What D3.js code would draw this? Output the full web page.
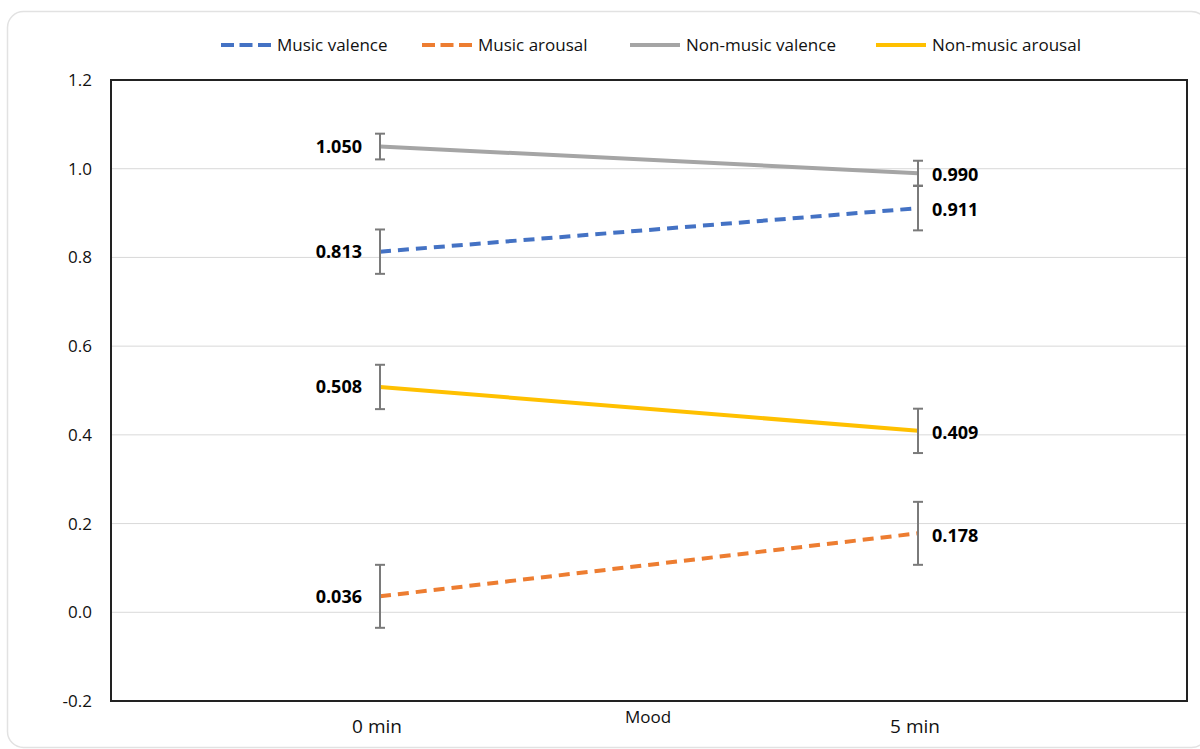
<!DOCTYPE html>
<html>
<head>
<meta charset="utf-8">
<script src="https://cdn.jsdelivr.net/npm/d3@7"></script>
<style>
  html, body { margin: 0; padding: 0; background: #fff; }
  svg { display: block; font-family: "Open Sans", Lato, sans-serif; }
</style>
</head>
<body>
<svg id="chart" width="1200" height="749"></svg>
<script>
// Time points on the x axis
const timePoints = ["0 min", "5 min"];

// Series names in legend order
const seriesNames = ["Music valence", "Music arousal", "Non-music valence", "Non-music arousal"];

// Mean values at 0 min and 5 min
const musicValence = [0.813, 0.911];
const musicArousal = [0.036, 0.178];
const nonMusicValence = [1.050, 0.990];
const nonMusicArousal = [0.508, 0.409];

// Error (± half-range) for each point
const musicValenceErr = [0.050, 0.050];
const musicArousalErr = [0.071, 0.071];
const nonMusicValenceErr = [0.029, 0.028];
const nonMusicArousalErr = [0.050, 0.050];

// Y axis tick labels
const yTicks = [-0.2, 0.0, 0.2, 0.4, 0.6, 0.8, 1.0, 1.2];

const seriesColors = ["#4472C4", "#ED7D31", "#A5A5A5", "#FFC000"];
const seriesDashed = [true, true, false, false];

const series = seriesNames.map((name, i) => ({
  name,
  values: [musicValence, musicArousal, nonMusicValence, nonMusicArousal][i],
  errs: [musicValenceErr, musicArousalErr, nonMusicValenceErr, nonMusicArousalErr][i],
  color: seriesColors[i],
  dashed: seriesDashed[i]
}));

// Plain hyphen-minus for negative tick labels
const tickFmt = d3.formatLocale({ decimal: ".", thousands: ",", grouping: [3], currency: ["", ""], minus: "-" }).format(".1f");

const svg = d3.select("#chart");

// Rounded card outline
svg.append("rect")
  .attr("x", 7.5).attr("y", 11.5)
  .attr("width", 1200).attr("height", 736)
  .attr("rx", 16).attr("ry", 16)
  .attr("fill", "#fff")
  .attr("stroke", "#e2e2e2").attr("stroke-width", 1.5);

const plot = { left: 111, top: 80, right: 1187, bottom: 701 };

const x = d3.scaleBand()
  .domain(timePoints)
  .range([plot.left, plot.right]);

const y = d3.scaleLinear()
  .domain([-0.2, 1.2])
  .range([plot.bottom, plot.top]);

const cx = t => x(t) + x.bandwidth() / 2;

// Horizontal gridlines
svg.append("g")
  .selectAll("line")
  .data(yTicks)
  .join("line")
  .attr("x1", plot.left).attr("x2", plot.right)
  .attr("y1", d => y(d)).attr("y2", d => y(d))
  .attr("stroke", "#d9d9d9").attr("stroke-width", 1);

// Y axis labels
const yAxis = svg.append("g")
  .attr("transform", `translate(${plot.left},0)`)
  .call(d3.axisLeft(y).tickValues(yTicks).tickFormat(tickFmt).tickSize(0).tickPadding(19));
yAxis.select(".domain").remove();
yAxis.selectAll("text")
  .attr("font-family", "'Open Sans', Lato, sans-serif")
  .attr("font-size", 17).attr("fill", "#111");

// X axis labels
const xAxis = svg.append("g")
  .attr("transform", `translate(0,${plot.bottom})`)
  .call(d3.axisBottom(x).tickSize(0).tickPadding(19));
xAxis.select(".domain").remove();
xAxis.selectAll("text")
  .attr("x", -3)
  .attr("font-family", "'Open Sans', Lato, sans-serif")
  .attr("font-size", 19).attr("fill", "#111");

// X axis title
svg.append("text")
  .attr("x", 648).attr("y", 723)
  .attr("text-anchor", "middle")
  .attr("font-size", 17).attr("fill", "#111")
  .text("Mood");

// Plot frame
svg.append("rect")
  .attr("x", plot.left).attr("y", plot.top)
  .attr("width", plot.right - plot.left).attr("height", plot.bottom - plot.top)
  .attr("fill", "none").attr("stroke", "#222").attr("stroke-width", 2);

// Lines
const line = d3.line()
  .x((d, i) => cx(timePoints[i]))
  .y(d => y(d));

svg.append("g")
  .selectAll("path")
  .data(series)
  .join("path")
  .attr("d", s => line(s.values))
  .attr("fill", "none")
  .attr("stroke", s => s.color)
  .attr("stroke-width", 4)
  .attr("stroke-dasharray", s => s.dashed ? "11,7" : null);

// Error bars
const errData = series.flatMap(s => s.values.map((v, i) => ({ t: timePoints[i], v, e: s.errs[i] })));
const eb = svg.append("g").attr("stroke", "#7a7a7a").attr("stroke-width", 2);
errData.forEach(d => {
  const px = cx(d.t);
  eb.append("line").attr("x1", px).attr("x2", px).attr("y1", y(d.v + d.e)).attr("y2", y(d.v - d.e));
  eb.append("line").attr("x1", px - 5).attr("x2", px + 5).attr("y1", y(d.v + d.e)).attr("y2", y(d.v + d.e));
  eb.append("line").attr("x1", px - 5).attr("x2", px + 5).attr("y1", y(d.v - d.e)).attr("y2", y(d.v - d.e));
});

// Value labels: left of first point, right of second point
const labels = svg.append("g")
  .attr("font-size", 18).attr("font-weight", "bold").attr("fill", "#000");
series.forEach(s => {
  s.values.forEach((v, i) => {
    const px = cx(timePoints[i]);
    labels.append("text")
      .attr("x", i === 0 ? px - 18 : px + 14)
      .attr("y", y(v) + (i === 0 ? 0 : 2))
      .attr("dy", "0.35em")
      .attr("text-anchor", i === 0 ? "end" : "start")
      .text(d3.format(".3f")(v));
  });
});

// Legend
const legendX = [221, 422, 630, 876];
const legend = svg.append("g");
series.forEach((s, i) => {
  const g = legend.append("g").attr("transform", `translate(${legendX[i]},45)`);
  g.append("line")
    .attr("x1", 0).attr("x2", 50).attr("y1", 0).attr("y2", 0)
    .attr("stroke", s.color).attr("stroke-width", 4)
    .attr("stroke-dasharray", s.dashed ? "13,5.5" : null);
  g.append("text")
    .attr("x", 56).attr("y", 0).attr("dy", "0.35em")
    .attr("font-size", 17).attr("fill", "#111")
    .text(s.name);
});
</script>
</body>
</html>
